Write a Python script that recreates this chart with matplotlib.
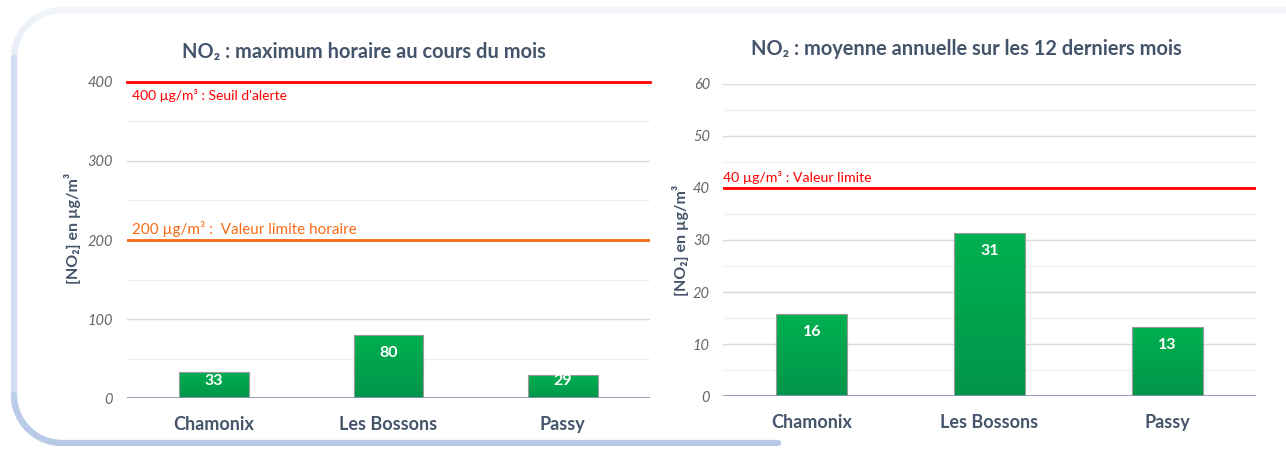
import numpy as np
import matplotlib
matplotlib.use("Agg")
import matplotlib.pyplot as plt
from matplotlib.collections import LineCollection
from matplotlib.colors import LinearSegmentedColormap
import matplotlib.transforms as mtransforms

plt.rcParams["font.family"] = ["Lato", "DejaVu Sans"]

# data
stations = ["Chamonix", "Les Bossons", "Passy"]
max_horaire = [33, 80, 29]
moy_annuelle = [15.8, 31.4, 13.2]

seuil_alerte = 400
valeur_limite_horaire = 200
valeur_limite_annuelle = 40

TITLE_COL = "#44546a"
TICK_COL = "#666666"
RED = "#ff0000"
ORANGE = "#f96a16"

green_cmap = LinearSegmentedColormap.from_list("g", ["#00954a", "#00b050"])

W, H = 1286, 449
fig = plt.figure(figsize=(W / 100, H / 100), dpi=100)


def draw_frame():
    # rounded frame in pixel coords, light at top, blue-ish at bottom
    r = 48
    pts = [(W, 10), (14 + r, 10)]
    for a in np.linspace(np.pi / 2, np.pi, 20):
        pts.append((14 + r + r * np.cos(a), 10 + r - r * np.sin(a)))
    for a in np.linspace(np.pi, 1.5 * np.pi, 20):
        pts.append((14 + r + r * np.cos(a), 443 - r - r * np.sin(a)))
    pts.append((778, 443))
    pts = np.array(pts, dtype=float)
    segs = np.stack([pts[:-1], pts[1:]], axis=1)
    ymid = (segs[:, 0, 1] + segs[:, 1, 1]) / 2
    frac = np.clip((ymid - 10) / (443 - 10), 0, 1)
    c0 = np.array([0.95, 0.96, 0.98])
    c1 = np.array([0.72, 0.79, 0.91])
    cols = c0 + (c1 - c0) * frac[:, None] ** 0.8
    segs[:, :, 0] /= W
    segs[:, :, 1] = 1 - segs[:, :, 1] / H
    lc = LineCollection(segs, colors=cols, linewidths=4.5,
                        transform=fig.transFigure, capstyle="round")
    fig.add_artist(lc)


def gradient_bars(ax, values, width):
    bars = ax.bar(range(len(values)), values, width=width, color="none",
                  edgecolor="#9a9a9a", linewidth=0.8, zorder=3)
    grad = np.linspace(0, 1, 100).reshape(-1, 1)
    for b in bars:
        x0, y0 = b.get_x(), b.get_y()
        im = ax.imshow(grad, cmap=green_cmap, aspect="auto", origin="lower",
                       extent=[x0, x0 + b.get_width(), y0, y0 + b.get_height()],
                       zorder=2)
        im.set_clip_path(b)
    return bars


def value_labels(ax, values, px_per_unit):
    # inside end, pushed up when the bar is too short
    for i, v in enumerate(values):
        y = max(v - 18 / px_per_unit, 17 / px_per_unit)
        ax.text(i, y, f"{round(v):d}", ha="center", va="center", color="white",
                fontsize=11.5, fontweight="bold", zorder=5)


def style_axes(ax, ymax, major, minor, pad_y):
    ax.set_ylim(0, ymax)
    ax.set_xlim(-0.5, 2.5)
    ax.set_yticks(np.arange(0, ymax + 1, major))
    for v in np.arange(minor, ymax, major):
        ax.axhline(v, color="#f0f0f0", lw=1, zorder=0)
    for v in np.arange(major, ymax + 1, major):
        ax.axhline(v, color="#d9d9d9", lw=1, zorder=0)
    ax.axhline(0, color="#8496b0", lw=1.3, zorder=4)
    for s in ax.spines.values():
        s.set_visible(False)
    ax.tick_params(axis="y", length=0, pad=pad_y, labelcolor=TICK_COL, labelsize=10.5)
    for lab in ax.get_yticklabels():
        lab.set_fontstyle("italic")
    ax.set_xticks(range(len(stations)))
    ax.set_xticklabels(stations, fontsize=13, fontweight="bold", color=TITLE_COL)
    ax.tick_params(axis="x", length=0, pad=13)
    ax.set_ylabel("[NO₂] en µg/m³", fontsize=11.5, fontweight="bold", color=TITLE_COL)


draw_frame()

# left chart : maximum horaire
ax1 = fig.add_axes([127 / W, 1 - 398.3 / H, 523 / W, 316.6 / H])
gradient_bars(ax1, max_horaire, 0.40)
style_axes(ax1, 400, 100, 50, 10)
ax1.axhline(seuil_alerte, color=RED, lw=2, zorder=4, clip_on=False)
ax1.axhline(valeur_limite_horaire, color=ORANGE, lw=2, zorder=4)
value_labels(ax1, max_horaire, 316.6 / 400)
tr1 = mtransforms.blended_transform_factory(ax1.transAxes, ax1.transData)
ax1.text(0.01, 391, "400 µg/m³ : Seuil d'alerte", transform=tr1, color=RED,
         fontsize=10, va="top", ha="left")
ax1.text(0.01, 204, "200 µg/m³ :  Valeur limite horaire", transform=tr1,
         color=ORANGE, fontsize=11, va="bottom", ha="left")
ax1.yaxis.set_label_coords(-0.087, 0.538)
fig.text(364 / W, 1 - 52 / H, "NO₂ : maximum horaire au cours du mois",
         ha="center", va="center", fontsize=14.4, fontweight="bold", color=TITLE_COL)

# right chart : moyenne annuelle
ax2 = fig.add_axes([723 / W, 1 - 396.3 / H, 533 / W, 312.8 / H])
gradient_bars(ax2, moy_annuelle, 0.40)
style_axes(ax2, 60, 10, 5, 9.4)
ax2.axhline(valeur_limite_annuelle, color=RED, lw=2, zorder=4)
value_labels(ax2, moy_annuelle, 312.8 / 60)
tr2 = mtransforms.blended_transform_factory(ax2.transAxes, ax2.transData)
ax2.text(0.0, 40.7, "40 µg/m³ : Valeur limite", transform=tr2, color=RED,
         fontsize=10.2, va="bottom", ha="left")
ax2.yaxis.set_label_coords(-0.064, 0.5)
fig.text(966 / W, 1 - 49 / H, "NO₂ : moyenne annuelle sur les 12 derniers mois",
         ha="center", va="center", fontsize=14.4, fontweight="bold", color=TITLE_COL)

fig.savefig("out.png", dpi=100)
